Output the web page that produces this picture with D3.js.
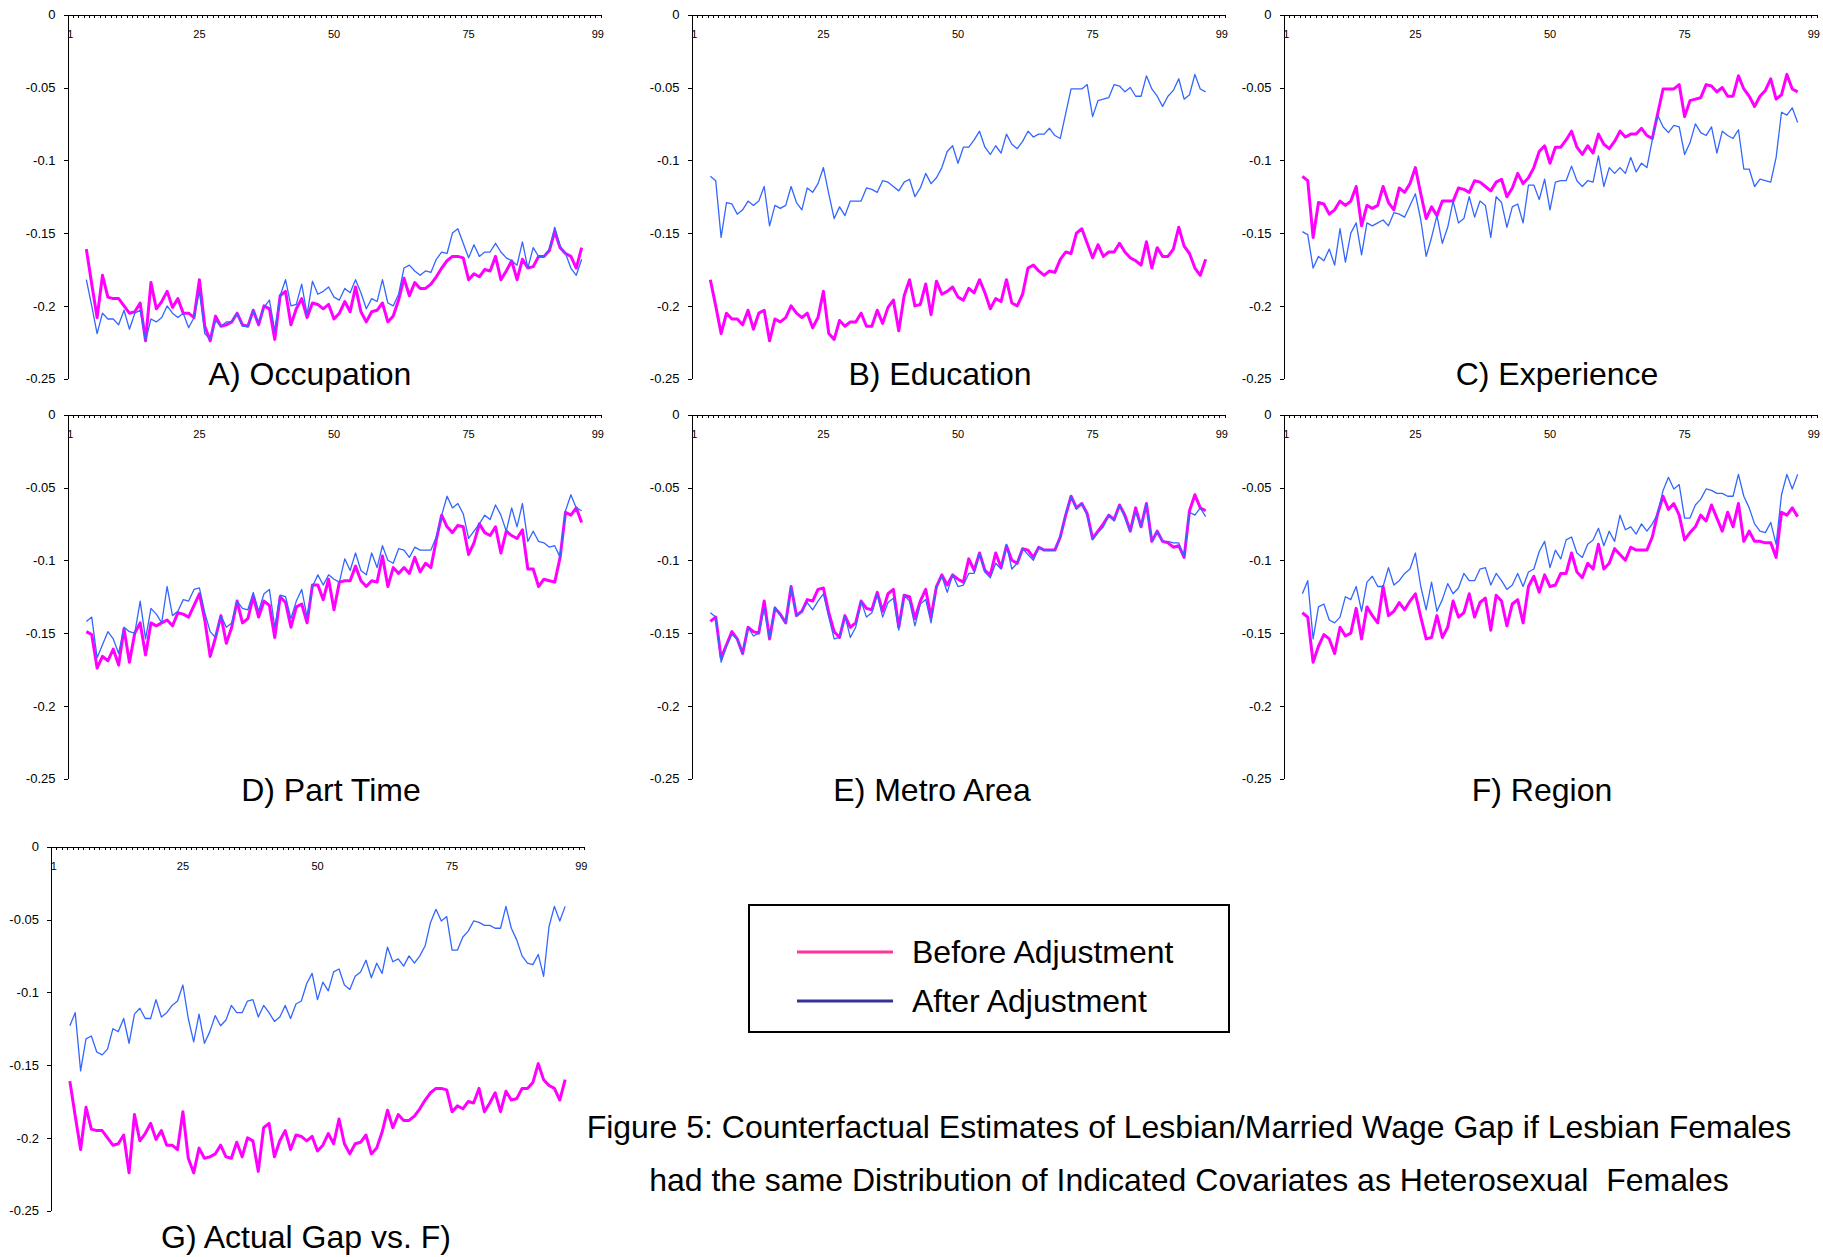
<!DOCTYPE html>
<html>
<head>
<meta charset="utf-8">
<script src="https://cdn.jsdelivr.net/npm/d3@7"></script>
<style>
  body { margin: 0; background: #fff; }
  text { font-family: "Liberation Sans", Arial, sans-serif; fill: #000; }
  .axis path, .axis line { stroke: #000; shape-rendering: crispEdges; }
</style>
</head>
<body>
<div id="chart"></div>
<script>
// percentile categories on the axis (1..99), data only from 4 to 96
var axisCategories = d3.range(1, 100);
var percentiles = d3.range(4, 97);
var xTickLabels = [1, 25, 50, 75, 99];
var yTicks = [0, -0.05, -0.1, -0.15, -0.2, -0.25];

// gap series, percentiles 4..96
var actualGap = [-0.161,-0.185,-0.208,-0.179,-0.194,-0.195,-0.195,-0.200,-0.205,-0.204,
  -0.198,-0.224,-0.184,-0.202,-0.197,-0.190,-0.201,-0.195,-0.205,-0.205,
  -0.208,-0.182,-0.214,-0.224,-0.207,-0.214,-0.213,-0.211,-0.205,-0.213,
  -0.214,-0.203,-0.213,-0.200,-0.202,-0.223,-0.193,-0.190,-0.213,-0.202,
  -0.195,-0.208,-0.198,-0.199,-0.202,-0.199,-0.209,-0.205,-0.197,-0.204,
  -0.187,-0.204,-0.211,-0.204,-0.203,-0.198,-0.211,-0.207,-0.196,-0.181,
  -0.193,-0.184,-0.188,-0.188,-0.185,-0.180,-0.174,-0.169,-0.166,-0.166,
  -0.167,-0.182,-0.178,-0.180,-0.175,-0.176,-0.166,-0.182,-0.176,-0.169,
  -0.182,-0.168,-0.174,-0.173,-0.166,-0.166,-0.162,-0.149,-0.160,-0.164,
  -0.166,-0.174,-0.160];
var afterOccupation = [-0.182,-0.200,-0.219,-0.205,-0.209,-0.209,-0.213,-0.203,-0.216,-0.205,
  -0.203,-0.224,-0.209,-0.211,-0.208,-0.200,-0.205,-0.208,-0.205,-0.215,
  -0.208,-0.190,-0.219,-0.223,-0.210,-0.214,-0.211,-0.211,-0.205,-0.214,
  -0.214,-0.203,-0.212,-0.201,-0.196,-0.217,-0.193,-0.182,-0.200,-0.199,
  -0.185,-0.206,-0.183,-0.192,-0.190,-0.187,-0.194,-0.196,-0.188,-0.191,
  -0.182,-0.191,-0.202,-0.195,-0.197,-0.182,-0.198,-0.200,-0.192,-0.174,
  -0.172,-0.176,-0.179,-0.176,-0.177,-0.168,-0.163,-0.164,-0.150,-0.147,
  -0.157,-0.167,-0.158,-0.166,-0.163,-0.163,-0.157,-0.163,-0.167,-0.169,
  -0.172,-0.156,-0.174,-0.160,-0.166,-0.166,-0.161,-0.146,-0.159,-0.164,
  -0.174,-0.179,-0.168];
var afterEducation = [-0.111,-0.114,-0.153,-0.129,-0.130,-0.137,-0.134,-0.128,-0.131,-0.128,
  -0.118,-0.145,-0.131,-0.133,-0.131,-0.118,-0.129,-0.134,-0.119,-0.122,
  -0.116,-0.105,-0.123,-0.140,-0.132,-0.138,-0.128,-0.128,-0.128,-0.119,
  -0.120,-0.122,-0.114,-0.115,-0.118,-0.121,-0.115,-0.113,-0.125,-0.119,
  -0.109,-0.116,-0.112,-0.105,-0.094,-0.090,-0.102,-0.091,-0.091,-0.086,
  -0.080,-0.091,-0.096,-0.090,-0.095,-0.082,-0.089,-0.092,-0.087,-0.080,
  -0.084,-0.082,-0.082,-0.078,-0.083,-0.085,-0.068,-0.051,-0.051,-0.051,
  -0.048,-0.070,-0.059,-0.058,-0.057,-0.048,-0.049,-0.053,-0.050,-0.056,
  -0.056,-0.042,-0.051,-0.056,-0.063,-0.056,-0.052,-0.044,-0.058,-0.055,
  -0.041,-0.051,-0.053];
var afterExperience = [-0.149,-0.151,-0.174,-0.166,-0.169,-0.161,-0.172,-0.147,-0.170,-0.150,
  -0.143,-0.165,-0.143,-0.145,-0.143,-0.141,-0.145,-0.136,-0.137,-0.139,
  -0.131,-0.123,-0.141,-0.166,-0.153,-0.138,-0.157,-0.146,-0.128,-0.143,
  -0.140,-0.125,-0.139,-0.128,-0.131,-0.153,-0.125,-0.129,-0.146,-0.132,
  -0.130,-0.143,-0.117,-0.117,-0.127,-0.113,-0.134,-0.115,-0.114,-0.114,
  -0.104,-0.114,-0.118,-0.114,-0.115,-0.097,-0.118,-0.105,-0.109,-0.105,
  -0.109,-0.098,-0.108,-0.102,-0.105,-0.086,-0.069,-0.077,-0.081,-0.076,
  -0.077,-0.096,-0.088,-0.075,-0.081,-0.083,-0.077,-0.095,-0.080,-0.083,
  -0.085,-0.079,-0.106,-0.106,-0.118,-0.113,-0.114,-0.115,-0.098,-0.067,
  -0.069,-0.064,-0.074];
var afterPartTime = [-0.142,-0.139,-0.167,-0.158,-0.149,-0.154,-0.164,-0.146,-0.149,-0.150,
  -0.128,-0.154,-0.133,-0.137,-0.143,-0.118,-0.138,-0.135,-0.127,-0.128,
  -0.120,-0.119,-0.136,-0.149,-0.153,-0.138,-0.146,-0.143,-0.128,-0.133,
  -0.134,-0.122,-0.135,-0.123,-0.120,-0.146,-0.124,-0.125,-0.140,-0.128,
  -0.120,-0.139,-0.118,-0.110,-0.117,-0.110,-0.113,-0.115,-0.099,-0.107,
  -0.095,-0.107,-0.110,-0.095,-0.105,-0.090,-0.100,-0.102,-0.092,-0.093,
  -0.098,-0.091,-0.093,-0.093,-0.093,-0.084,-0.069,-0.056,-0.064,-0.061,
  -0.068,-0.085,-0.080,-0.075,-0.069,-0.072,-0.062,-0.069,-0.080,-0.064,
  -0.077,-0.061,-0.087,-0.080,-0.087,-0.088,-0.091,-0.090,-0.098,-0.066,
  -0.055,-0.064,-0.066];
var afterMetro = [-0.136,-0.139,-0.170,-0.159,-0.151,-0.154,-0.164,-0.146,-0.152,-0.150,
  -0.133,-0.154,-0.132,-0.138,-0.143,-0.118,-0.138,-0.135,-0.129,-0.134,
  -0.128,-0.123,-0.139,-0.154,-0.153,-0.138,-0.153,-0.146,-0.128,-0.139,
  -0.136,-0.123,-0.139,-0.129,-0.126,-0.148,-0.124,-0.128,-0.145,-0.130,
  -0.127,-0.143,-0.118,-0.111,-0.122,-0.110,-0.118,-0.117,-0.109,-0.109,
  -0.095,-0.108,-0.112,-0.102,-0.106,-0.089,-0.106,-0.102,-0.092,-0.096,
  -0.100,-0.091,-0.093,-0.093,-0.093,-0.084,-0.068,-0.056,-0.065,-0.061,
  -0.069,-0.086,-0.081,-0.077,-0.069,-0.073,-0.062,-0.071,-0.080,-0.067,
  -0.077,-0.061,-0.087,-0.080,-0.087,-0.087,-0.088,-0.088,-0.098,-0.067,
  -0.069,-0.064,-0.070];
var afterRegion = [-0.123,-0.114,-0.154,-0.132,-0.130,-0.141,-0.143,-0.139,-0.125,-0.127,
  -0.118,-0.135,-0.115,-0.111,-0.118,-0.118,-0.105,-0.117,-0.114,-0.109,
  -0.106,-0.095,-0.118,-0.134,-0.115,-0.135,-0.127,-0.116,-0.123,-0.119,
  -0.109,-0.114,-0.114,-0.106,-0.105,-0.117,-0.109,-0.114,-0.120,-0.117,
  -0.109,-0.118,-0.108,-0.106,-0.094,-0.087,-0.105,-0.093,-0.099,-0.086,
  -0.084,-0.095,-0.098,-0.089,-0.086,-0.078,-0.090,-0.080,-0.087,-0.069,
  -0.079,-0.077,-0.082,-0.075,-0.080,-0.075,-0.068,-0.052,-0.043,-0.051,
  -0.048,-0.071,-0.071,-0.062,-0.058,-0.051,-0.052,-0.054,-0.054,-0.056,
  -0.056,-0.041,-0.056,-0.064,-0.075,-0.080,-0.081,-0.074,-0.089,-0.055,
  -0.041,-0.051,-0.041];

var panelTitles = ["A) Occupation", "B) Education", "C) Experience", "D) Part Time",
  "E) Metro Area", "F) Region", "G) Actual Gap vs. F)"];
var beforeSeries = [actualGap, afterOccupation, afterEducation, afterExperience, afterPartTime, afterMetro, actualGap];
var afterSeries = [afterOccupation, afterEducation, afterExperience, afterPartTime, afterMetro, afterRegion, afterRegion];

var legendLabels = ["Before Adjustment", "After Adjustment"];
var captionLines = ["Figure 5: Counterfactual Estimates of Lesbian/Married Wage Gap if Lesbian Females",
  "had the same Distribution of Indicated Covariates as Heterosexual  Females"];

// layout
var width = 1823, height = 1257;
var pw = 533, ph = 364;
var panelPos = [
  { x: 67.5, y: 14.7, tx: 310, ty: 385 },
  { x: 691.5, y: 14.7, tx: 940, ty: 385 },
  { x: 1283.5, y: 14.7, tx: 1557, ty: 385 },
  { x: 67.5, y: 414.7, tx: 331, ty: 801 },
  { x: 691.5, y: 414.7, tx: 932, ty: 801 },
  { x: 1283.5, y: 414.7, tx: 1542, ty: 801 },
  { x: 51, y: 846.7, tx: 306, ty: 1248 }
];
var beforeColor = "#ff00ff", afterColor = "#3366ff";

var svg = d3.select("#chart")
  .append("svg")
  .attr("width", width)
  .attr("height", height);

var x = d3.scaleBand().domain(axisCategories).range([0, pw]);
var xEdge = d3.scaleLinear().domain([0, axisCategories.length]).range([0, pw]);
var y = d3.scaleLinear().domain([-0.25, 0]).range([ph, 0]);

var line = d3.line()
  .x(function (d) { return x(d[0]) + x.bandwidth() / 2; })
  .y(function (d) { return y(d[1]); });

panelTitles.forEach(function (title, i) {
  var p = panelPos[i];
  var g = svg.append("g").attr("transform", "translate(" + p.x + "," + p.y + ")");

  // x axis on top, little ticks hanging down at category edges
  g.append("g")
    .attr("class", "axis")
    .call(d3.axisBottom(xEdge).tickValues(d3.range(0, axisCategories.length + 1)).tickSize(3).tickSizeOuter(0).tickFormat(""));

  g.selectAll(".xlab")
    .data(xTickLabels)
    .enter()
    .append("text")
    .attr("x", function (d) { return x(d) + x.bandwidth() / 2; })
    .attr("y", 23)
    .attr("text-anchor", "middle")
    .style("font-size", "11px")
    .text(function (d) { return d; });

  // y axis
  var ya = g.append("g")
    .attr("class", "axis")
    .call(d3.axisLeft(y).tickValues(yTicks).tickSize(4).tickSizeOuter(0).tickPadding(8)
      .tickFormat(function (d) { return d === 0 ? "0" : String(d); }));
  ya.selectAll("text").style("font-size", "13px").attr("font-family", null);

  // series
  var before = percentiles.map(function (c, k) { return [c, beforeSeries[i][k]]; });
  var after = percentiles.map(function (c, k) { return [c, afterSeries[i][k]]; });

  g.append("path")
    .attr("d", line(before))
    .attr("fill", "none")
    .attr("stroke", beforeColor)
    .attr("stroke-width", 3)
    .attr("stroke-linejoin", "round");

  g.append("path")
    .attr("d", line(after))
    .attr("fill", "none")
    .attr("stroke", afterColor)
    .attr("stroke-width", 1.3)
    .attr("stroke-linejoin", "round");

  svg.append("text")
    .attr("x", p.tx)
    .attr("y", p.ty)
    .attr("text-anchor", "middle")
    .style("font-size", "32px")
    .text(title);
});

// legend
var lg = svg.append("g");
lg.append("rect")
  .attr("x", 749).attr("y", 905).attr("width", 480).attr("height", 127)
  .attr("fill", "none").attr("stroke", "#000").attr("stroke-width", 2);
var legendColors = ["#ff3399", "#333399"];
legendLabels.forEach(function (lab, i) {
  var ly = 952 + i * 49;
  lg.append("line")
    .attr("x1", 797).attr("x2", 893).attr("y1", ly).attr("y2", ly)
    .attr("stroke", legendColors[i]).attr("stroke-width", 3);
  lg.append("text")
    .attr("x", 912).attr("y", ly + 11)
    .style("font-size", "32px")
    .text(lab);
});

// caption
captionLines.forEach(function (t, i) {
  svg.append("text")
    .attr("x", 1189)
    .attr("y", 1138 + i * 53)
    .attr("text-anchor", "middle")
    .style("font-size", "32px")
    .style("white-space", "pre")
    .text(t);
});
</script>
</body>
</html>
